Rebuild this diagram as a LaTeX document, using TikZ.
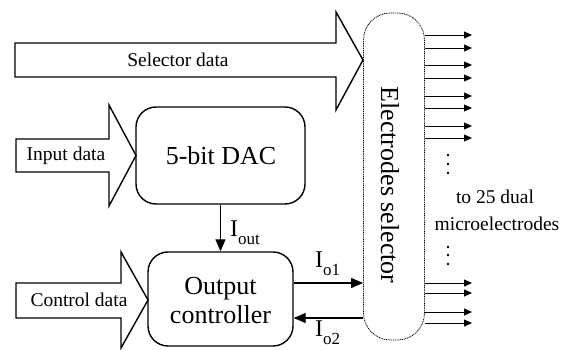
\documentclass[tikz,border=0pt]{standalone}
\usepackage{fontspec}
\setmainfont{Liberation Serif}
\usetikzlibrary{arrows.meta}
\tikzset{
  blockarrow/.style={draw=black, line width=1.4pt, fill=white, line join=miter},
  roundbox/.style={draw=black, line width=1.4pt, rounded corners=20pt, inner sep=0pt},
  selbox/.style={draw=black, line width=0.8pt, dash pattern=on 1pt off 0.8pt, rounded corners=27pt, inner sep=0pt},
  smalltxt/.style={font=\fontsize{19.5}{20}\selectfont, inner sep=0pt},
  bigtxt/.style={font=\fontsize{26}{29}\selectfont, inner sep=0pt, align=center},
  curarrow/.style={line width=1.3pt, -{Triangle[length=12pt,width=10pt]}},
  outarrow/.style={line width=0.8pt, -{Triangle[length=8pt,width=7pt]}},
  dotnode/.style={circle, fill=black, inner sep=0pt, minimum size=2.6pt}
}
\newcommand{\curlabel}[2]{{\fontsize{24}{24}\selectfont I}\raisebox{-8pt}{\fontsize{17}{17}\selectfont #2}}
\begin{document}
\begin{tikzpicture}[x=1pt,y=-1pt]
\useasboundingbox (0,0) rectangle (570,350);
% block arrows
\draw[blockarrow] (15,43) -- (336,43) -- (336,12) -- (363,60) -- (336,110) -- (336,77) -- (15,77) -- cycle;
\node[smalltxt] (seltxt) at (178,60) {Selector data};
\draw[blockarrow] (16,139) -- (109,139) -- (109,105) -- (136,155.5) -- (109,206) -- (109,172) -- (16,172) -- cycle;
\node[smalltxt] (intxt) at (66,155.5) {Input data};
\draw[blockarrow] (16,283) -- (121,283) -- (121,252) -- (148,300) -- (121,348) -- (121,318) -- (16,318) -- cycle;
\node[smalltxt] (ctltxt) at (79,300) {Control data};
% boxes
\node[roundbox, minimum width=169pt, minimum height=97pt] (dac) at (220.5,155.5) {};
\node[bigtxt] (dactxt) at (221,155.5) {5-bit DAC};
\node[roundbox, minimum width=145pt, minimum height=94pt] (ctrl) at (220.5,299) {};
\node[bigtxt] (ctrltxt) at (220.5,301) {Output\\controller};
\node[selbox, minimum width=61pt, minimum height=327pt] (sel) at (394,176.5) {};
\node[bigtxt, rotate=-90] (seltext) at (390,185) {Electrodes selector};
% current arrows
\draw[curarrow] (dac) -- (ctrl);
\node[anchor=base west, inner sep=0pt] (iout) at (230,236) {\curlabel{I}{out}};
\coordinate (o1) at (0,283);
\coordinate (o2) at (0,318);
\draw[curarrow] (ctrl.east |- o1) -- (sel.west |- o1);
\draw[curarrow] (sel.west |- o2) -- (ctrl.east |- o2);
\node[anchor=base west, inner sep=0pt] (io1) at (315,267) {\curlabel{I}{o1}};
\node[anchor=base west, inner sep=0pt] (io2) at (315,336) {\curlabel{I}{o2}};
% output lines
\foreach \yy in {35,48,65,78,96,108,126,138,283,293,312,323}{
  \coordinate (t\yy) at (472,\yy);
  \draw[outarrow] (sel.east |- t\yy) -- (t\yy);
}
\foreach \yy in {155,164,173,247,255,264}{
  \node[dotnode] at (448,\yy) {};
}
\node[smalltxt] (to25) at (495,197) {to 25 dual};
\node[smalltxt] (micro) at (497,224) {microelectrodes};
\end{tikzpicture}
\end{document}
